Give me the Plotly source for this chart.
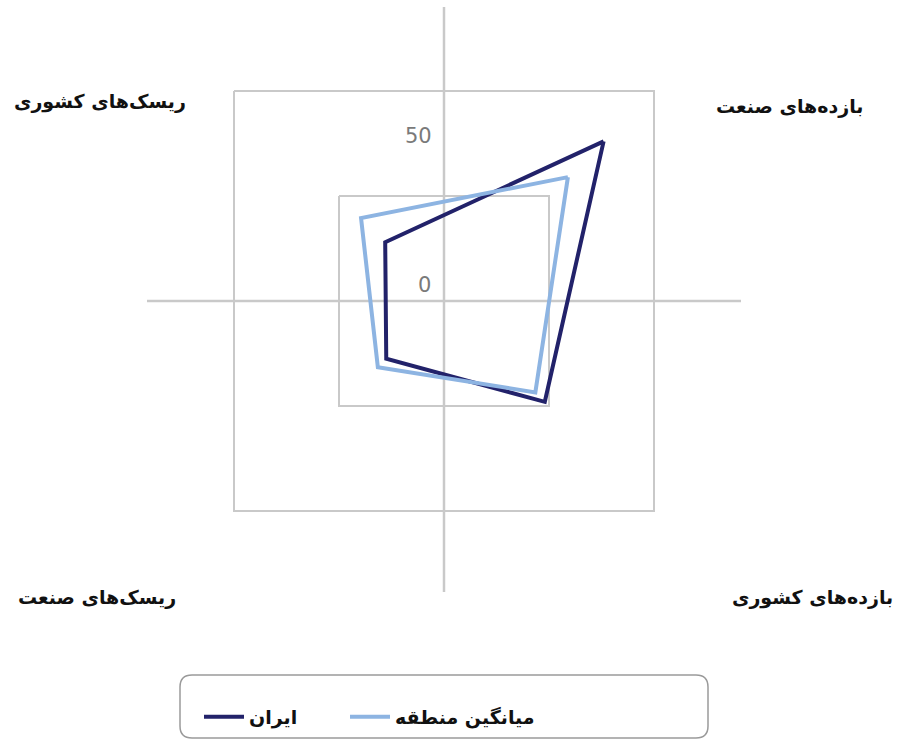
import plotly.graph_objects as go

# radar chart: Iran vs regional average
categories = ['بازده\u200cهای صنعت', 'بازده\u200cهای کشوری',
              'ریسک\u200cهای صنعت', 'ریسک\u200cهای کشوری']
iran = [26, -2, -22.5, -22]
region_avg = [9, -6.5, -18.5, -10.5]
series_names = ['ایران', 'میانگین منطقه']
tick_labels = ['0', '50']

W, H = 899, 749
fnt = 'DejaVu Sans'


def px(x):
    return x / W


def py(y):
    return 1 - y / H


fig = go.Figure()

fig.add_trace(go.Scatterpolar(
    r=iran + iran[:1], theta=categories + categories[:1],
    mode='lines', name=series_names[0], legend='legend',
    line=dict(color='#22226a', width=4),
))
fig.add_trace(go.Scatterpolar(
    r=region_avg + region_avg[:1], theta=categories + categories[:1],
    mode='lines', name=series_names[1], legend='legend2',
    line=dict(color='#8db4e2', width=4),
))

grey = '#c9c9c9'
leg_font = dict(family=fnt, size=19, color='#111', weight='bold')

fig.update_layout(
    width=W, height=H,
    margin=dict(l=0, r=0, t=0, b=0),
    paper_bgcolor='white',
    showlegend=True,
    polar=dict(
        domain=dict(x=[px(147), px(741)], y=[py(598), py(4)]),
        bgcolor='rgba(0,0,0,0)',
        gridshape='linear',
        radialaxis=dict(range=[-50, 50], tickvals=[0, 50],
                        showticklabels=False, ticks='', showline=False,
                        gridcolor=grey, gridwidth=2),
        angularaxis=dict(rotation=45, direction='clockwise',
                         showgrid=False, showticklabels=False, ticks='',
                         showline=True, linecolor=grey, linewidth=2),
    ),
    legend=dict(orientation='h', x=px(199), y=py(717), xanchor='left',
                yanchor='middle', bgcolor='rgba(0,0,0,0)', font=leg_font,
                itemwidth=40),
    legend2=dict(orientation='h', x=px(345), y=py(717), xanchor='left',
                 yanchor='middle', bgcolor='rgba(0,0,0,0)', font=leg_font,
                 itemwidth=40),
)

# cross lines through the centre
fig.add_shape(type='line', xref='paper', yref='paper', layer='below',
              x0=px(147), x1=px(741), y0=py(301), y1=py(301),
              line=dict(color=grey, width=2.5))
fig.add_shape(type='line', xref='paper', yref='paper', layer='below',
              x0=px(444), x1=px(444), y0=py(7), y1=py(592),
              line=dict(color=grey, width=2.5))

# legend frame with rounded corners
x0, x1, y0, y1, rr = 180, 708, 675, 738, 12
path = (f'M {px(x0 + rr)},{py(y0)} L {px(x1 - rr)},{py(y0)} '
        f'Q {px(x1)},{py(y0)} {px(x1)},{py(y0 + rr)} '
        f'L {px(x1)},{py(y1 - rr)} Q {px(x1)},{py(y1)} {px(x1 - rr)},{py(y1)} '
        f'L {px(x0 + rr)},{py(y1)} Q {px(x0)},{py(y1)} {px(x0)},{py(y1 - rr)} '
        f'L {px(x0)},{py(y0 + rr)} Q {px(x0)},{py(y0)} {px(x0 + rr)},{py(y0)} Z')
fig.add_shape(type='path', xref='paper', yref='paper', path=path,
              line=dict(color='#9a9a9a', width=1.5))

# radial tick labels
for txt, (tx, ty) in zip(tick_labels, [(424, 285), (418, 136)]):
    fig.add_annotation(text=txt, x=px(tx), y=py(ty), xref='paper', yref='paper',
                       showarrow=False, xanchor='center', yanchor='middle',
                       font=dict(family='DejaVu Sans', size=21, color='#7a7a7a'))

# category labels at the corners
cat_pos = [(789, 107), (812, 597), (97, 597), (100, 101)]
for txt, (tx, ty) in zip(categories, cat_pos):
    fig.add_annotation(text=txt, x=px(tx), y=py(ty), xref='paper', yref='paper',
                       showarrow=False, xanchor='center', yanchor='middle',
                       font=dict(family=fnt, size=19, color='#111', weight='bold'))

# drop the default page margin so the figure sits at (0, 0)
fig.write_html('out.html', config={'displayModeBar': False},
               post_script="document.body.style.margin = '0';")
